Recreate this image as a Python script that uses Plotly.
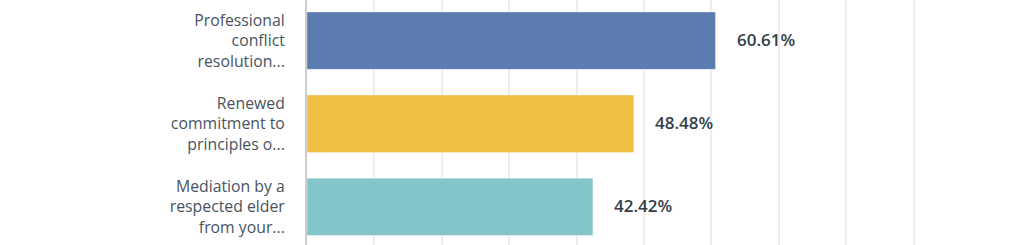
import plotly.graph_objects as go

categories = ["Professional<br>conflict<br>resolution...",
              "Renewed<br>commitment to<br>principles o...",
              "Mediation by a<br>respected elder<br>from your..."]
values = [60.61, 48.48, 42.42]
value_labels = ["60.61%", "48.48%", "42.42%"]
colors = ["#5B7BB1", "#EFBF42", "#84C5CA"]
x_ticks = [0, 10, 20, 30, 40, 50, 60, 70, 80, 90, 100]

positions = list(range(len(categories)))

fig = go.Figure()
fig.add_trace(go.Bar(
    y=positions, x=values, orientation="h",
    marker=dict(color=colors, line=dict(color="rgba(255,255,255,0.35)", width=1)),
    width=0.69, hoverinfo="skip",
))

for p, v, t in zip(positions, values, value_labels):
    fig.add_annotation(x=v, y=p, text=t, showarrow=False, xanchor="left",
                       xshift=19, yshift=1,
                       font=dict(family="Open Sans", size=17, color="#333E48", weight=600))

fig.update_layout(
    width=1024, height=245,
    margin=dict(l=307, r=43, t=0, b=0),
    paper_bgcolor="white", plot_bgcolor="white",
    showlegend=False,
    bargap=0.31,
)
fig.update_xaxes(range=[0, 100], tickvals=x_ticks, showticklabels=False,
                 showgrid=True, gridcolor="#EEEEEE", gridwidth=2,
                 zeroline=False, showline=False, fixedrange=True)
fig.update_yaxes(range=[2.46, -0.49], tickvals=positions, ticktext=categories,
                 showgrid=False, zeroline=False, showline=True, linecolor="#CCCCCC",
                 linewidth=2, ticks="", ticklabelstandoff=17,
                 tickfont=dict(family="Open Sans", size=15.8, color="#4A5360"))
fig.update_xaxes(layer="below traces")

fig.write_html("out.html")
